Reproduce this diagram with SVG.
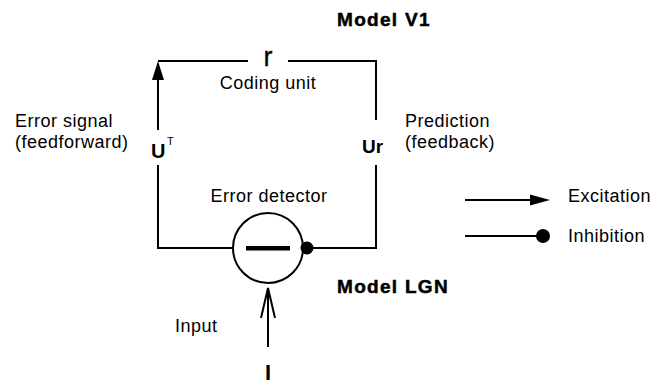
<svg xmlns="http://www.w3.org/2000/svg" width="663" height="385" viewBox="0 0 663 385">
<style>
text{font-family:"Liberation Sans",Arial,Helvetica,sans-serif;fill:#000}
.lbl{font-size:18px;letter-spacing:0.5px}
.hd{font-size:19px;font-weight:bold;letter-spacing:1.3px;stroke:#000;stroke-width:0.5}
.ln{stroke:#000;stroke-width:2;fill:none}
.c{text-anchor:middle}
</style>
<rect width="663" height="385" fill="#fff"/>
<g id="connectors">
<path class="ln" d="M158 130 V70"/>
<polygon points="158,61 152,80 164,80" fill="#000"/>
<path class="ln" d="M158 61 H248 M288 61 H376 V120 M376 165 V248 H313"/>
<path class="ln" d="M158 165 V248 H233"/>
<circle cx="307" cy="248" r="6.5" fill="#000"/>
<path class="ln" d="M268 347 V288 M261 318 L268 288 L275 318"/>
</g>
<g id="coding-unit">
<text x="268" y="66" class="c" style="font-size:27px;stroke:#000;stroke-width:0.3">r</text>
<text x="268" y="89" class="lbl c">Coding unit</text>
</g>
<g id="model-v1"><text x="337" y="26" class="hd">Model V1</text></g>
<g id="error-signal">
<text x="15" y="127" class="lbl">Error signal</text>
<text x="15" y="148" class="lbl">(feedforward)</text>
<text x="151" y="158" style="font-size:20px;font-weight:bold">U</text>
<text x="167" y="145" style="font-size:11px">T</text>
</g>
<g id="prediction">
<text x="405" y="127" class="lbl">Prediction</text>
<text x="405" y="148" class="lbl">(feedback)</text>
<text x="362" y="153" style="font-size:19px;font-weight:bold">Ur</text>
</g>
<g id="error-detector">
<text x="269" y="202" class="lbl c">Error detector</text>
<circle cx="268" cy="248" r="35" class="ln"/>
<rect x="246" y="246" width="44" height="4.5" fill="#000"/>
</g>
<g id="model-lgn"><text x="337" y="293" class="hd">Model LGN</text></g>
<g id="input">
<text x="175" y="332" class="lbl">Input</text>
<text x="268" y="380" class="c" style="font-size:22px;font-weight:bold">I</text>
</g>
<g id="legend">
<path class="ln" d="M465 200 H533"/>
<polygon points="530,194.5 550,200 530,205.5" fill="#000"/>
<text x="568" y="202" class="lbl">Excitation</text>
<path class="ln" d="M465 236 H543"/>
<circle cx="543" cy="236" r="7" fill="#000"/>
<text x="568" y="242" class="lbl">Inhibition</text>
</g>
</svg>
